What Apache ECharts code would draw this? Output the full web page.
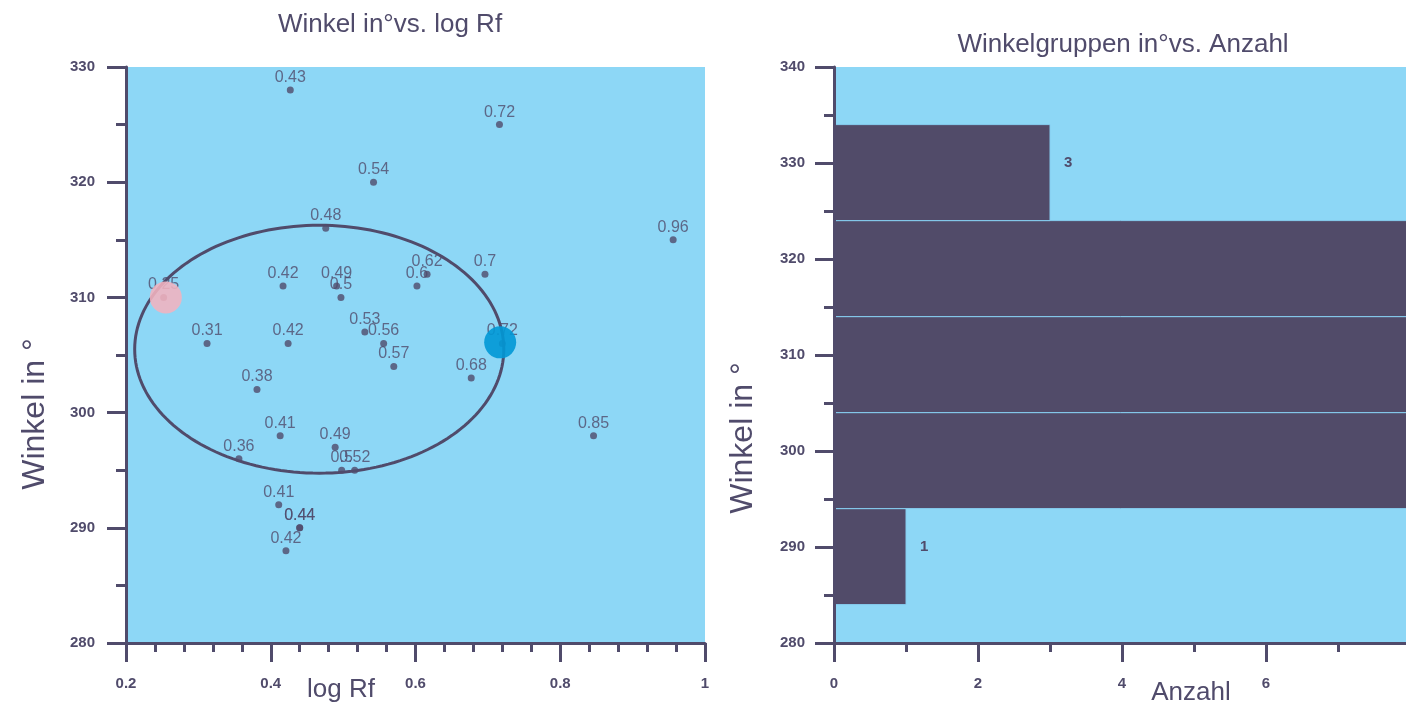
<!DOCTYPE html>
<html><head><meta charset="utf-8">
<script src="https://cdn.jsdelivr.net/npm/echarts@6/dist/echarts.min.js"></script>
<style>html,body{margin:0;padding:0;background:#fff}#c{width:1406px;height:705px}</style>
</head><body><div id="c"></div>
<script>
// ---- data ----
const logRf  = [0.427,0.716,0.542,0.476,0.956,0.417,0.491,0.497,0.602,0.616,0.696,0.252,0.312,0.424,0.530,0.556,0.570,0.720,0.677,0.381,0.413,0.846,0.489,0.356,0.498,0.516,0.411,0.440,0.440,0.421];
const winkel = [328,325,320,316,315,311,311,310,311,312,312,310,306,306,307,306,304,306,303,302,298,298,297,296,295,295,292,290,290,288];
const ellipseCenter = [0.467, 305.5];
const ellipseRadius = [0.255, 10.76];
const pinkMarker = [0.255, 310];
const blueMarker = [0.717, 306.1];
const binLower = [284, 294, 304, 314, 324];
const binUpper = [294, 304, 314, 324, 334];
const binLabelAt = [290, 300, 310, 320, 330];
const binCount = [1, 8, 9, 9, 3];
const titles = ['Winkel in°vs. log Rf', 'Winkelgruppen in°vs. Anzahl'];
const axisNames = ['log Rf', 'Winkel in °', 'Anzahl', 'Winkel in °'];

// ---- style ----
const INK = '#504b6b';
const SKY = '#8dd7f6';
const tickFont = {color: INK, fontSize: 15, fontWeight: 'bold', fontFamily: '"Liberation Sans Narrow", "Liberation Sans", Arial, sans-serif'};

function axisStyle(extra) {
  return Object.assign({
    type: 'value',
    z: 5,
    axisLine: {show: true, onZero: false, lineStyle: {color: INK, width: 3}},
    axisTick: {show: true, length: 19, lineStyle: {color: INK, width: 3}},
    minorTick: {show: true, length: 9, lineStyle: {color: INK, width: 3}},
    splitLine: {show: false},
    minorSplitLine: {show: false},
    axisLabel: Object.assign({margin: 31}, tickFont)
  }, extra);
}

const chart = echarts.init(document.getElementById('c'), null, {renderer: 'canvas'});

const option = {
  animation: false,
  backgroundColor: '#ffffff',
  grid: [
    {left: 126, top: 67, width: 579, height: 576, show: true, backgroundColor: SKY, borderWidth: 0, containLabel: false, outerBoundsMode: 'none'},
    {left: 834, top: 67, width: 576, height: 576, show: true, backgroundColor: SKY, borderWidth: 0, containLabel: false, outerBoundsMode: 'none'}
  ],
  xAxis: [
    axisStyle({gridIndex: 0, min: 0.2, max: 1, interval: 0.2, minorTick: {show: true, splitNumber: 5, length: 9, lineStyle: {color: INK, width: 3}}, axisLabel: Object.assign({margin: 33}, tickFont)}),
    axisStyle({gridIndex: 1, min: 0, max: 8, interval: 2, minorTick: {show: true, splitNumber: 2, length: 9, lineStyle: {color: INK, width: 3}}, axisLabel: Object.assign({margin: 33}, tickFont)})
  ],
  yAxis: [
    axisStyle({gridIndex: 0, min: 280, max: 330, interval: 10, minorTick: {show: true, splitNumber: 2, length: 10, lineStyle: {color: INK, width: 3}}}),
    axisStyle({gridIndex: 1, min: 280, max: 340, interval: 10, minorTick: {show: true, splitNumber: 2, length: 10, lineStyle: {color: INK, width: 3}}, axisLabel: Object.assign({margin: 29}, tickFont)})
  ],
  graphic: [
    {type: 'text', x: 390, y: 25, style: {text: titles[0], fill: INK, font: '26px "Liberation Sans", Arial, sans-serif', textAlign: 'center', textVerticalAlign: 'middle'}},
    {type: 'text', x: 1123, y: 45, style: {text: titles[1], fill: INK, font: '26px "Liberation Sans", Arial, sans-serif', textAlign: 'center', textVerticalAlign: 'middle'}},
    {type: 'text', x: 341, y: 690, style: {text: axisNames[0], fill: INK, font: '26px "Liberation Sans", Arial, sans-serif', textAlign: 'center', textVerticalAlign: 'middle'}},
    {type: 'text', x: 35, y: 414, rotation: Math.PI / 2, style: {text: axisNames[1], fill: INK, font: '32px "Liberation Sans", Arial, sans-serif', textAlign: 'center', textVerticalAlign: 'middle'}},
    {type: 'text', x: 1191, y: 693, style: {text: axisNames[2], fill: INK, font: '26px "Liberation Sans", Arial, sans-serif', textAlign: 'center', textVerticalAlign: 'middle'}},
    {type: 'text', x: 743, y: 438, rotation: Math.PI / 2, style: {text: axisNames[3], fill: INK, font: '32px "Liberation Sans", Arial, sans-serif', textAlign: 'center', textVerticalAlign: 'middle'}}
  ],
  series: [
    {
      type: 'custom',
      name: 'ellipse',
      coordinateSystem: 'cartesian2d',
      xAxisIndex: 0, yAxisIndex: 0,
      z: 3,
      silent: true,
      data: [[ellipseCenter[0], ellipseCenter[1], ellipseRadius[0], ellipseRadius[1]]],
      renderItem: function (params, api) {
        const c = api.coord([api.value(0), api.value(1)]);
        const s = api.size([api.value(2), api.value(3)]);
        const pts = [];
        for (let k = 0; k < 180; k++) {
          const t = k / 180 * Math.PI * 2;
          pts.push([c[0] + s[0] * Math.cos(t), c[1] + s[1] * Math.sin(t)]);
        }
        return {type: 'polygon', shape: {points: pts}, style: {fill: 'none', stroke: INK, lineWidth: 3}};
      }
    },
    {
      type: 'scatter',
      name: 'Winkel',
      xAxisIndex: 0, yAxisIndex: 0,
      z: 4,
      symbol: 'circle',
      symbolSize: 7,
      itemStyle: {color: INK},
      label: {
        show: true, position: 'top', distance: 1,
        color: '#504b6b', fontSize: 16, fontFamily: '"Liberation Sans", Arial, sans-serif',
        formatter: function (p) { return String(Math.round(p.value[0] * 100) / 100); }
      },
      labelLayout: {hideOverlap: false},
      data: logRf.map(function (x, i) { return [x, winkel[i]]; })
    },
    {
      type: 'scatter',
      name: 'markers',
      xAxisIndex: 0, yAxisIndex: 0,
      z: 10,
      symbolSize: 32,
      silent: true,
      data: [
        {value: pinkMarker, itemStyle: {color: '#f2b3bf', opacity: 0.88}},
        {value: blueMarker, itemStyle: {color: '#0098d6', opacity: 0.9}}
      ]
    },
    {
      type: 'custom',
      name: 'Anzahl',
      coordinateSystem: 'cartesian2d',
      xAxisIndex: 1, yAxisIndex: 1,
      z: 2,
      data: binLower.map(function (lo, i) { return [lo, binUpper[i], binCount[i], binLabelAt[i]]; }),
      renderItem: function (params, api) {
        const lo = api.value(0), hi = api.value(1), n = api.value(2), at = api.value(3);
        const a = api.coord([0, hi]);
        const b = api.coord([n, lo]);
        const t = api.coord([n, at]);
        const cs = params.coordSys;
        const r = echarts.graphic.clipRectByRect(
          {x: a[0], y: a[1], width: b[0] - a[0], height: b[1] - a[1]},
          {x: cs.x, y: cs.y, width: cs.width, height: cs.height});
        const children = [];
        if (r) children.push({type: 'rect', shape: r, style: {fill: '#514b69', stroke: '#86cdef', lineWidth: 1}});
        children.push({type: 'text', x: t[0] + 14, y: t[1],
          style: {text: String(n), fill: INK, font: 'bold 15px "Liberation Sans Narrow", "Liberation Sans", Arial, sans-serif', textAlign: 'left', textVerticalAlign: 'middle'}});
        return {type: 'group', children: children};
      }
    }
  ]
};
chart.setOption(option);
</script>
</body></html>
